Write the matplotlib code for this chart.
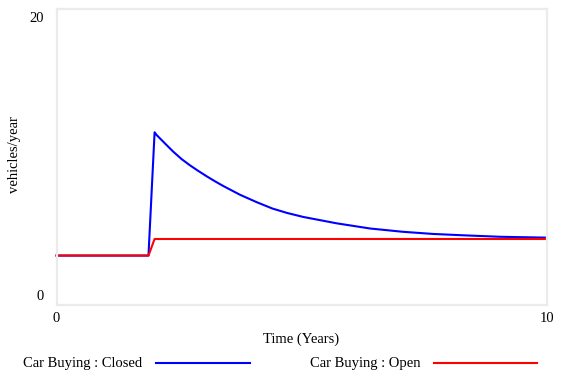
import matplotlib
matplotlib.use("Agg")
import matplotlib.pyplot as plt
from matplotlib.lines import Line2D

plt.rcParams['font.family'] = ['Liberation Serif', 'DejaVu Serif']

# Data
t_closed = [0, 1.875, 2.0, 2.04, 2.21, 2.38, 2.55, 2.72, 2.89, 3.06, 3.23, 3.40, 3.74, 4.08,
            4.40, 4.70, 5.03, 5.71, 6.39, 7.05, 7.68, 8.36, 9.04, 10]
closed = [3.34, 3.34, 11.67, 11.49, 10.92, 10.36, 9.86, 9.44, 9.06, 8.70, 8.36, 8.04, 7.45, 6.95,
          6.52, 6.22, 5.95, 5.52, 5.17, 4.95, 4.80, 4.70, 4.61, 4.55]
t_open = [0, 1.875, 2.0, 10]
open_ = [3.34, 3.34, 4.46, 4.46]

x_ticks = [0, 10]
y_ticks = [0, 20]
series_names = ["Car Buying : Closed", "Car Buying : Open"]
colors = ["#0000ff", "#ff0000"]

W, H = 571, 380
fig = plt.figure(figsize=(W / 100, H / 100), dpi=100)
ax = fig.add_axes([56.5 / W, 1 - 305 / H, (547 - 56.5) / W, (305 - 9) / H])
ax.set_xlim(0, 10)
ax.set_ylim(0, 20)
ax.set_xticks([])
ax.set_yticks([])
for s in ax.spines.values():
    s.set_color("#ebebeb")
    s.set_linewidth(1.6)

ax.plot(t_closed, closed, color=colors[0], lw=1.5, clip_on=False)
ax.plot(t_open, open_, color=colors[1], lw=1.5, clip_on=False)

fs = 10.5
# y tick labels (placed inward as in Vensim)
fig.text(44 / W, 1 - 18 / H, str(y_ticks[1]), ha='right', va='center', fontsize=fs)
fig.text(44 / W, 1 - 296 / H, str(y_ticks[0]), ha='right', va='center', fontsize=fs)
# x tick labels
xoff = -(319 - 305) / (305 - 9)
for xv in x_ticks:
    ax.text(xv, xoff, str(xv), transform=ax.get_xaxis_transform(), ha='center', va='center',
            fontsize=fs)

fig.text(301.5 / W, 1 - 339 / H, "Time (Years)", ha='center', va='center', fontsize=fs)
fig.text(15 / W, 1 - 155 / H, "vehicles/year", ha='center', va='center', rotation=90, fontsize=fs)

# legend
fig.text(22.7 / W, 1 - 363 / H, series_names[0], ha='left', va='center', fontsize=fs)
fig.add_artist(Line2D([156 / W, 250 / W], [1 - 362.7 / H] * 2, color=colors[0], lw=1.5))
fig.text(310 / W, 1 - 363 / H, series_names[1], ha='left', va='center', fontsize=fs)
fig.add_artist(Line2D([434 / W, 537 / W], [1 - 362.7 / H] * 2, color=colors[1], lw=1.5))

fig.savefig("out.png", dpi=100)
